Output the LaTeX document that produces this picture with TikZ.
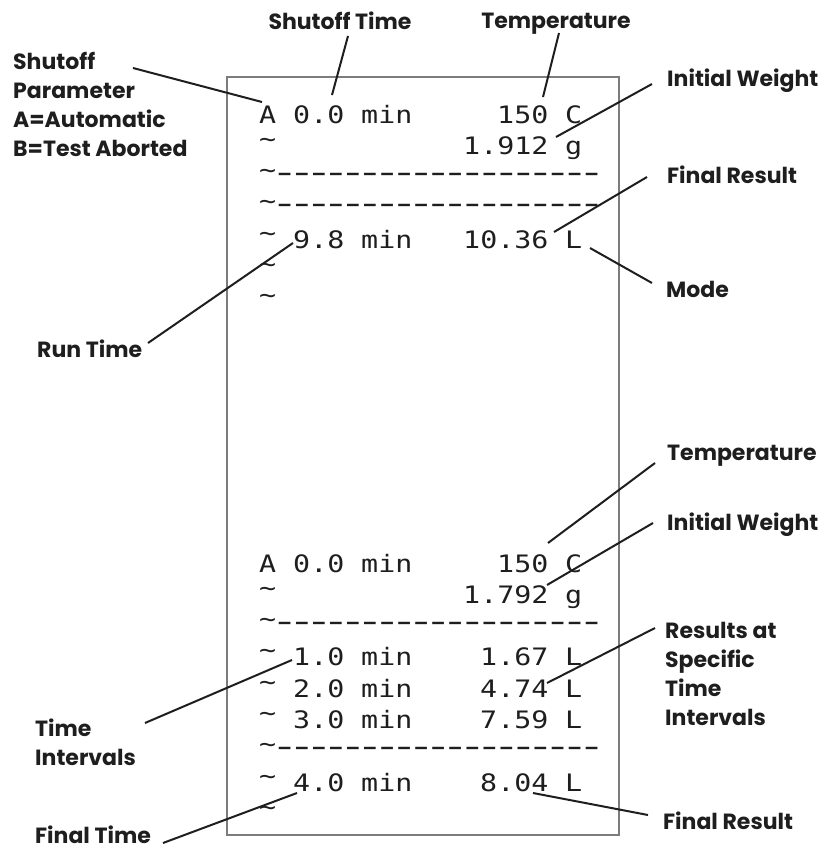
\documentclass[tikz,border=0pt]{standalone}
\usepackage{fontspec}
\newfontfamily\lblfont{Poppins}
\newfontfamily\prtfont[FakeStretch=1.18]{DejaVu Sans Mono}
\definecolor{ink}{HTML}{1E1E1E}
\definecolor{frame}{HTML}{7C7C7C}
% printer glyphs: raised tilde and a row of 19 dashes, one per 17pt column
\newcommand\prtilde{\raisebox{7pt}{\char"7E}}
\newcommand\prdash{\makebox[17.05pt]{\raisebox{2.5pt}{\scalebox{0.8}[1.2]{\char"2212}}}}
\newcommand\prdashes{\prdash\prdash\prdash\prdash\prdash\prdash\prdash\prdash\prdash\prdash\prdash\prdash\prdash\prdash\prdash\prdash\prdash\prdash\prdash}
\begin{document}
\begin{tikzpicture}[x=1pt,y=-1pt,
  lbl/.style={font=\lblfont\bfseries\fontsize{22}{28.7}\selectfont, text=ink, inner sep=0pt, align=left},
  prt/.style={font=\prtfont\fontsize{24}{24}\selectfont, text=ink, inner sep=0pt, anchor=base west},
  lead/.style={draw=ink, line width=2pt},
  slip/.style={draw=frame, line width=2.5pt}]
\path[use as bounding box] (0,0) rectangle (819,849);

% printout slip
\draw[slip] (227,77) rectangle (619,835);

% ---- upper printout (rows 31.3 apart, columns 17 wide) ----
\foreach \c/\s [count=\i] in {0/A,2/0.0,6/min,14/150,18/C}
  \node[prt] (u1-\i) at ({259+17*\c},123) {\s};
\foreach \c/\s [count=\i] in {0/\prtilde,12/1.912,18/g}
  \node[prt] (u2-\i) at ({259+17*\c},154.3) {\s};
\node[prt] (u3) at (259,185.6) {\prtilde\prdashes};
\node[prt] (u4) at (259,216.9) {\prtilde\prdashes};
\foreach \c/\s [count=\i] in {0/\prtilde,2/9.8,6/min,12/10.36,18/L}
  \node[prt] (u5-\i) at ({259+17*\c},248.2) {\s};
\node[prt] (u6) at (259,279.5) {\prtilde};
\node[prt] (u7) at (259,310.8) {\prtilde};

% ---- lower printout ----
\foreach \c/\s [count=\i] in {0/A,2/0.0,6/min,14/150,18/C}
  \node[prt] (l1-\i) at ({259+17*\c},572) {\s};
\foreach \c/\s [count=\i] in {0/\prtilde,12/1.792,18/g}
  \node[prt] (l2-\i) at ({259+17*\c},603.3) {\s};
\node[prt] (l3) at (259,634.6) {\prtilde\prdashes};
\foreach \c/\s [count=\i] in {0/\prtilde,2/1.0,6/min,13/1.67,18/L}
  \node[prt] (l4-\i) at ({259+17*\c},665.9) {\s};
\foreach \c/\s [count=\i] in {0/\prtilde,2/2.0,6/min,13/4.74,18/L}
  \node[prt] (l5-\i) at ({259+17*\c},697.2) {\s};
\foreach \c/\s [count=\i] in {0/\prtilde,2/3.0,6/min,13/7.59,18/L}
  \node[prt] (l6-\i) at ({259+17*\c},728.5) {\s};
\node[prt] (l7) at (259,759.8) {\prtilde\prdashes};
\foreach \c/\s [count=\i] in {0/\prtilde,2/4.0,6/min,13/8.04,18/L}
  \node[prt] (l8-\i) at ({259+17*\c},791.1) {\s};
\node[prt] (l9) at (259,822.4) {\prtilde};

% ---- callout labels (multi-line ones sit on their last baseline) ----
\node[lbl, anchor=base] (stime) at (340,29) {Shutoff Time};
\node[lbl, anchor=base] (tempA) at (556,28) {Temperature};
\node[lbl, anchor=base west] (param) at (13,156)
  {Shutoff\\Parameter\\A=Automatic\\B=Test Aborted};
\node[lbl, anchor=base west] (iwA) at (667,86) {Initial Weight};
\node[lbl, anchor=base west] (frA) at (667,183) {Final Result};
\node[lbl, anchor=base west] (mode) at (666,297) {Mode};
\node[lbl, anchor=base west] (run) at (37,357) {Run Time};
\node[lbl, anchor=base west] (tempB) at (667,460) {Temperature};
\node[lbl, anchor=base west] (iwB) at (667,530) {Initial Weight};
\node[lbl, anchor=base west] (rsti) at (665,725) {Results at\\Specific\\Time\\Intervals};
\node[lbl, anchor=base west] (ti) at (35,765) {Time\\Intervals};
\node[lbl, anchor=base west] (frB) at (663,829) {Final Result};
\node[lbl, anchor=base west] (ftime) at (35,843) {Final Time};

% ---- points the callouts touch on the printout ----
\coordinate (p-param) at (262,102);
\coordinate (p-stime) at (332,95);
\coordinate (p-tempA) at (543,97);
\coordinate (p-iwA) at (556,137);
\coordinate (p-frA) at (554,232);
\coordinate (p-mode) at (590,248);
\coordinate (p-run) at (293,243);
\coordinate (p-tempB) at (548,543);
\coordinate (p-iwB) at (547,585);
\coordinate (p-rsti) at (547,683);
\coordinate (p-frB) at (533,793);
\coordinate (p-ti) at (292,660);
\coordinate (p-ftime) at (297,793);

% ---- callout lines ----
\draw[lead] ([shift={(120,-88)}]param.base west) -- (p-param);
\draw[lead] ([shift={(8,7)}]stime.base) -- (p-stime);
\draw[lead] ([shift={(3,5)}]tempA.base) -- (p-tempA);
\draw[lead] ([shift={(-15,-2)}]iwA.base west) -- (p-iwA);
\draw[lead] ([shift={(-20,-6)}]frA.base west) -- (p-frA);
\draw[lead] ([shift={(-14,-14)}]mode.base west) -- (p-mode);
\draw[lead] ([shift={(111,-14)}]run.base west) -- (p-run);
\draw[lead] ([shift={(-12,3)}]tempB.base west) -- (p-tempB);
\draw[lead] ([shift={(-14,-7)}]iwB.base west) -- (p-iwB);
\draw[lead] ([shift={(-10,-97)}]rsti.base west) -- (p-rsti);
\draw[lead] ([shift={(110,-42)}]ti.base west) -- (p-ti);
\draw[lead] ([shift={(-15,-14)}]frB.base west) -- (p-frB);
\draw[lead] ([shift={(128,0)}]ftime.base west) -- (p-ftime);
\end{tikzpicture}
\end{document}
